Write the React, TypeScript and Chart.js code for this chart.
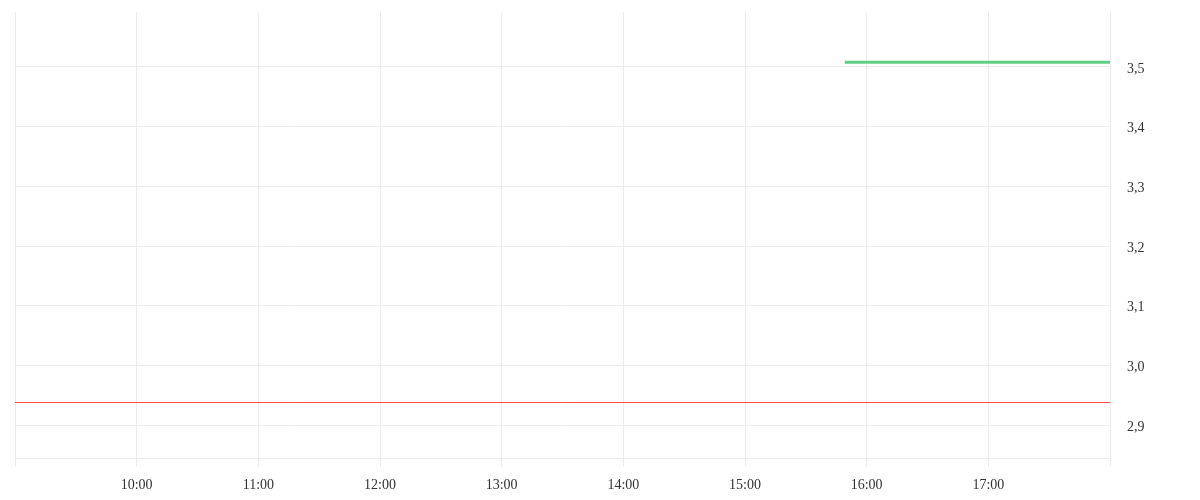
import React, { useEffect, useRef } from "react";
import { Chart, registerables } from "chart.js";

Chart.register(...registerables);

const hourTicks = [10, 11, 12, 13, 14, 15, 16, 17];
const yTicks = [2.9, 3.0, 3.1, 3.2, 3.3, 3.4, 3.5];
const xMin = 9;
const xMax = 18;
const yMin = 2.845;
const yMax = 3.592;

const greenTimes = [15.82, 18];
const greenValues = [3.508, 3.508];
const redTimes = [9, 18];
const redValues = [2.938, 2.938];

const fontFamily = "'Liberation Serif', 'Times New Roman', serif";

export default function App() {
  const ref = useRef<HTMLCanvasElement | null>(null);

  useEffect(() => {
    document.body.style.margin = "0";
    const canvas = ref.current;
    if (!canvas) return;
    const chart = new Chart(canvas, {
      type: "line",
      data: {
        datasets: [
          {
            data: greenTimes.map((t, i) => ({ x: t, y: greenValues[i] })),
            borderColor: "#5ccf83",
            borderWidth: 3,
            pointRadius: 0,
            fill: false,
          },
          {
            data: redTimes.map((t, i) => ({ x: t, y: redValues[i] })),
            borderColor: "#ff4a54",
            borderWidth: 1,
            pointRadius: 0,
            fill: false,
          },
        ],
      },
      options: {
        animation: false,
        responsive: false,
        maintainAspectRatio: false,
        layout: { padding: { left: 15, top: 12, right: 0, bottom: 0 } },
        plugins: { legend: { display: false }, tooltip: { enabled: false } },
        scales: {
          x: {
            type: "linear",
            min: xMin,
            max: xMax,
            afterBuildTicks: (scale: any) => {
              scale.ticks = [xMin, ...hourTicks, xMax].map((v) => ({ value: v }));
            },
            afterFit: (scale: any) => {
              scale.height = 42;
            },
            grid: { color: "#ececec", tickLength: 9, drawTicks: true },
            border: { display: true, color: "#ececec" },
            ticks: {
              maxRotation: 0,
              autoSkip: false,
              padding: 10,
              color: "#333",
              font: { family: fontFamily, size: 14 },
              callback: (v: any) =>
                hourTicks.includes(Number(v)) ? `${v}:00` : "",
            },
          },
          y: {
            type: "linear",
            position: "right",
            min: yMin,
            max: yMax,
            afterBuildTicks: (scale: any) => {
              scale.ticks = yTicks.map((v) => ({ value: v }));
            },
            afterFit: (scale: any) => {
              scale.width = 90;
              scale.paddingTop = 0;
              scale.paddingBottom = 0;
            },
            grid: { color: "#ececec", drawTicks: false },
            border: { display: false },
            ticks: {
              padding: 17,
              labelOffset: 2,
              color: "#333",
              font: { family: fontFamily, size: 14 },
              callback: (v: any) => Number(v).toFixed(1).replace(".", ","),
            },
          },
        },
      },
    });
    return () => chart.destroy();
  }, []);

  return <canvas ref={ref} width={1200} height={500} style={{ display: "block" }} />;
}
